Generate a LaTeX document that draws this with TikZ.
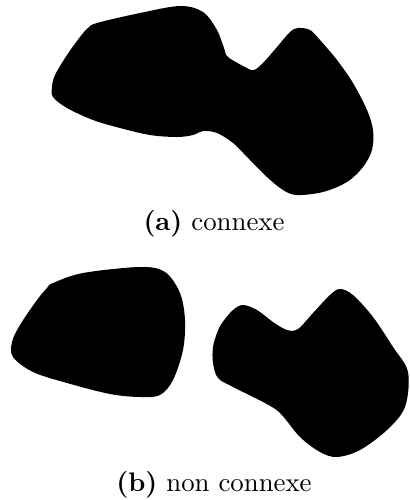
\documentclass[tikz,border=0pt]{standalone}
\usepackage{tikz}

\begin{document}
\begin{tikzpicture}[x=0.01311cm,y=-0.01311cm,
  blob/.style={fill=black, draw=none},
  capt/.style={anchor=base, inner sep=0pt},
  ]
\useasboundingbox (0,0) rectangle (409,500);
% ---- (a) one piece
\fill[blob] plot[smooth cycle, tension=0.55] coordinates {
  (97,23) (140,13) (180,6) (203,12) (217,30) (224,48) (228,57)
  (247,68) (254,70) (263,63) (277,47) (290,32) (298,28) (310,30)
  (320,40) (337,60) (353,83) (367,110) (373,130) (372,150) (363,167)
  (347,182) (323,192) (297,195) (283,190) (267,177) (250,160) (233,143)
  (217,133) (203,131) (193,135) (177,137) (150,135) (120,128) (93,120)
  (67,108) (53,97) (52,87) (55,75) (67,55) (80,37) (88,28)};
\node[capt] (capa) at (214,230) {\textbf{(a)} connexe};
% ---- (b) two pieces
\fill[blob] plot[smooth cycle, tension=0.55] coordinates {
  (53,283) (83,273) (140,267) (165,272) (180,293) (185,320) (183,350)
  (173,380) (160,395) (140,397) (110,394) (67,383) (33,372) (13,357)
  (12,342) (20,325) (37,300) (47,288)};
\fill[blob] plot[smooth cycle, tension=0.55] coordinates {
  (222,323) (233,310) (243,305) (257,310) (273,322) (287,330) (298,329)
  (313,313) (330,295) (340,289) (353,295) (373,317) (393,347) (408,372)
  (405,407) (387,430) (360,450) (337,457) (320,452) (300,437) (280,413)
  (263,402) (233,387) (218,378) (213,363) (213,347) (217,333)};
\node[capt] (capb) at (214,491) {\textbf{(b)} non connexe};
\end{tikzpicture}
\end{document}
